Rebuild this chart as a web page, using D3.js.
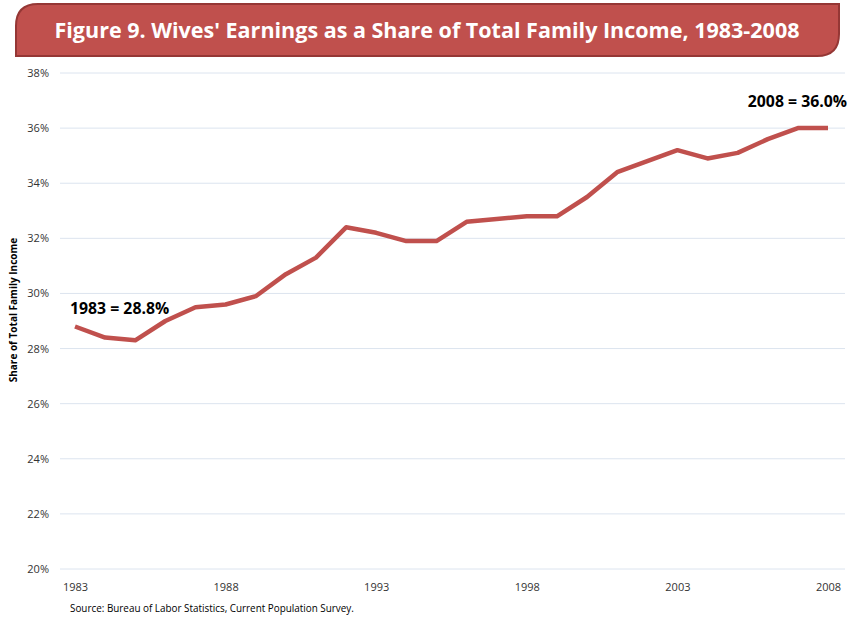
<!DOCTYPE html>
<html>
<head>
<meta charset="utf-8">
<script src="https://cdn.jsdelivr.net/npm/d3@7"></script>
<style>
  body { margin: 0; background: #fff; }
  svg { display: block; font-family: "Open Sans", "Noto Sans", sans-serif; }
</style>
</head>
<body>
<div id="chart"></div>
<script>
// chart data
const years = [1983, 1984, 1985, 1986, 1987, 1988, 1989, 1990, 1991, 1992, 1993, 1994, 1995,
  1996, 1997, 1998, 1999, 2000, 2001, 2002, 2003, 2004, 2005, 2006, 2007, 2008];
const shares = [28.8, 28.4, 28.3, 29.0, 29.5, 29.6, 29.9, 30.7, 31.3, 32.4, 32.2, 31.9, 31.9,
  32.6, 32.7, 32.8, 32.8, 33.5, 34.4, 34.8, 35.2, 34.9, 35.1, 35.6, 36.0, 36.0];
const yTicks = [20, 22, 24, 26, 28, 30, 32, 34, 36, 38];
const xTicks = [1983, 1988, 1993, 1998, 2003, 2008];
const annotations = [
  { year: 1983, value: 28.8, label: "1983 = 28.8%" },
  { year: 2008, value: 36.0, label: "2008 = 36.0%" }
];

const WIDTH = 847;
const HEIGHT = 621;
const RED = "#c0504d";

const svg = d3.select("#chart")
  .append("svg")
  .attr("width", WIDTH)
  .attr("height", HEIGHT);

// title banner: rounded top-left and bottom-right corners
const bx0 = 16, by0 = 4, bx1 = 839, by1 = 56, r = 22;
const banner = `M${bx0},${by1} L${bx0},${by0 + r} Q${bx0},${by0} ${bx0 + r},${by0} L${bx1},${by0} L${bx1},${by1 - r} Q${bx1},${by1} ${bx1 - r},${by1} Z`;
svg.append("path")
  .attr("d", banner)
  .attr("fill", RED)
  .attr("stroke", "#953735")
  .attr("stroke-width", 2);

svg.append("text")
  .attr("x", 427)
  .attr("y", 38)
  .attr("text-anchor", "middle")
  .attr("fill", "#fff")
  .attr("font-size", 22)
  .attr("font-weight", "bold")
  .attr("textLength", 745)
  .attr("lengthAdjust", "spacingAndGlyphs")
  .text("Figure 9. Wives' Earnings as a Share of Total Family Income, 1983-2008");

// scales
const x = d3.scaleLinear().domain([1983, 2008]).range([75, 828]);
const y = d3.scaleLinear().domain([20, 38]).range([569, 73]);

// gridlines
svg.append("g")
  .selectAll("line")
  .data(yTicks)
  .join("line")
  .attr("x1", 60)
  .attr("x2", 845)
  .attr("y1", d => y(d))
  .attr("y2", d => y(d))
  .attr("stroke", "#dce4ef")
  .attr("stroke-width", 1);

// y axis labels
const yAxis = d3.axisLeft(y)
  .tickValues(yTicks)
  .tickSize(0)
  .tickPadding(0)
  .tickFormat(d => d + "%");
svg.append("g")
  .attr("transform", "translate(49,0)")
  .call(yAxis)
  .call(g => g.select(".domain").remove())
  .call(g => g.selectAll("text")
    .attr("font-size", 11)
    .attr("fill", "#333")
    .attr("font-family", "Open Sans, sans-serif"));

// x axis labels
const xAxis = d3.axisBottom(x)
  .tickValues(xTicks)
  .tickSize(0)
  .tickPadding(0)
  .tickFormat(d3.format("d"));
svg.append("g")
  .attr("transform", "translate(0,583)")
  .call(xAxis)
  .call(g => g.select(".domain").remove())
  .call(g => g.selectAll("text")
    .attr("font-size", 11)
    .attr("fill", "#333")
    .attr("font-family", "Open Sans, sans-serif"));

// y axis title
svg.append("text")
  .attr("transform", "translate(17,310) rotate(-90)")
  .attr("text-anchor", "middle")
  .attr("font-size", 10)
  .attr("font-weight", "bold")
  .attr("fill", "#000")
  .text("Share of Total Family Income");

// the line
const line = d3.line()
  .x((d, i) => x(years[i]))
  .y(d => y(d));
svg.append("path")
  .datum(shares)
  .attr("d", line)
  .attr("fill", "none")
  .attr("stroke", RED)
  .attr("stroke-width", 4.5)
  .attr("stroke-linejoin", "round");

// annotations
svg.append("text")
  .attr("x", x(annotations[0].year) - 5)
  .attr("y", y(annotations[0].value) - 13)
  .attr("font-size", 15.8)
  .attr("font-weight", "bold")
  .attr("fill", "#000")
  .text(annotations[0].label);

svg.append("text")
  .attr("x", 847)
  .attr("y", y(annotations[1].value) - 21)
  .attr("text-anchor", "end")
  .attr("font-size", 15.8)
  .attr("font-weight", "bold")
  .attr("fill", "#000")
  .text(annotations[1].label);

// source note
svg.append("text")
  .attr("x", 70)
  .attr("y", 612)
  .attr("font-size", 9.9)
  .attr("fill", "#000")
  .text("Source: Bureau of Labor Statistics, Current Population Survey.");
</script>
</body>
</html>
